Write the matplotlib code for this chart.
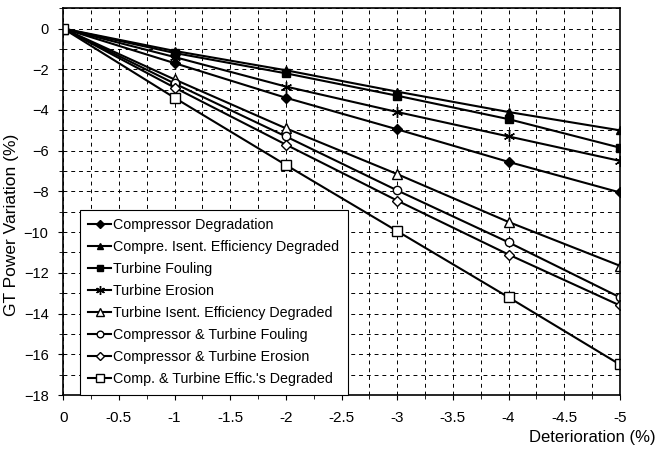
import matplotlib.pyplot as plt
from matplotlib.ticker import MultipleLocator

plt.rcParams['font.family'] = ['Liberation Sans', 'DejaVu Sans']

deterioration = [0, -1, -2, -3, -4, -5]

labels = [
    "Compressor Degradation",
    "Compre. Isent. Efficiency Degraded",
    "Turbine Fouling",
    "Turbine Erosion",
    "Turbine Isent. Efficiency Degraded",
    "Compressor & Turbine Fouling",
    "Compressor & Turbine Erosion",
    "Comp. & Turbine Effic.'s Degraded",
]

comp_degradation = [0, -1.7, -3.4, -4.95, -6.55, -8.05]
comp_isent = [0, -1.1, -2.05, -3.1, -4.1, -5.0]
turb_fouling = [0, -1.2, -2.2, -3.3, -4.45, -5.85]
turb_erosion = [0, -1.4, -2.85, -4.1, -5.3, -6.5]
turb_isent = [0, -2.5, -4.9, -7.15, -9.5, -11.65]
ct_fouling = [0, -2.7, -5.3, -7.95, -10.5, -13.2]
ct_erosion = [0, -2.9, -5.7, -8.45, -11.1, -13.6]
ct_effic = [0, -3.4, -6.7, -9.95, -13.2, -16.5]

series = [comp_degradation, comp_isent, turb_fouling, turb_erosion,
          turb_isent, ct_fouling, ct_erosion, ct_effic]

# marker style per series
styles = [
    dict(marker='D', mfc='black', ms=5),
    dict(marker='^', mfc='black', ms=6),
    dict(marker='s', mfc='black', ms=5.5),
    dict(marker=(6, 2, 0), mfc='black', ms=8, mew=1.0),
    dict(marker='^', mfc='white', ms=7),
    dict(marker='o', mfc='white', ms=6),
    dict(marker='D', mfc='white', ms=5.5),
    dict(marker='s', mfc='white', ms=6.5),
]

fig = plt.figure(figsize=(6.58, 4.53), dpi=100)
ax = fig.add_axes([0.096, 0.128, 0.846, 0.854])

for vals, lab, st in zip(series, labels, styles):
    ax.plot(deterioration, vals, color='black', lw=1.5, mec='black',
            label=lab, **st)

ax.set_xlim(0, -5)
ax.set_ylim(-18, 1)
ax.xaxis.set_major_locator(MultipleLocator(0.5))
ax.xaxis.set_minor_locator(MultipleLocator(0.25))
ax.yaxis.set_major_locator(MultipleLocator(2))
ax.yaxis.set_minor_locator(MultipleLocator(1))
ax.xaxis.set_major_formatter(plt.FuncFormatter(lambda v, p: f"{v:g}"))
ax.grid(True, which='both', linestyle=(0, (4, 4)), color='black', lw=0.7)
ax.tick_params(which='both', direction='out', labelsize=11, colors='black')
ax.tick_params(axis='x', pad=8)
ax.tick_params(axis='y', pad=7, labelsize=10.5)
ax.tick_params(which='minor', length=3)
for s in ax.spines.values():
    s.set_linewidth(1.2)

ax.set_ylabel("GT Power Variation (%)", fontsize=12.5)
ax.yaxis.set_label_coords(-0.08, 0.44)
ax.set_xlabel("Deterioration (%)", fontsize=12, ha='right')
ax.xaxis.set_label_coords(1.065, -0.09)

leg = ax.legend(loc='lower left', bbox_to_anchor=(0.03, 0.0), fontsize=10.3,
                handlelength=1.6, handletextpad=0.15, labelspacing=0.56,
                fancybox=False, edgecolor='black', framealpha=1,
                borderpad=0.6, borderaxespad=0, markerscale=0.8)
leg.get_frame().set_linewidth(0.8)

fig.savefig("out.png", dpi=100)
